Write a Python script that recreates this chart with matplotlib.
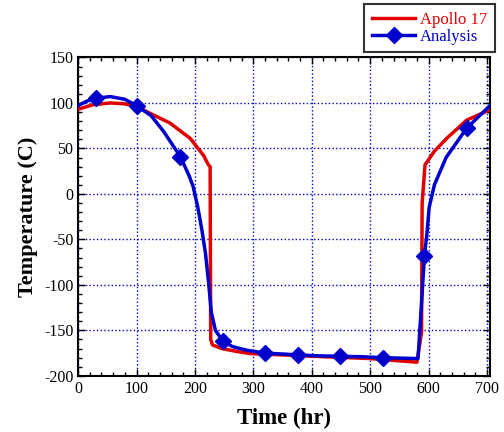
import matplotlib.pyplot as plt
from matplotlib.ticker import MultipleLocator

# Apollo 17 measured surface temperature
apollo_t = [0, 25, 55, 80, 100, 125, 157, 192, 215, 223, 226, 227, 230, 246, 270, 294,
            350, 420, 500, 580, 588, 589, 594, 610, 631, 665, 700, 705]
apollo_T = [93, 98, 100, 99, 96, 88, 78, 61, 42, 32, 30, -160, -166, -170, -173, -175.5,
            -177, -179, -181, -185, -152, -10, 32, 47, 61, 81, 91, 93]

# Analysis curve
analysis_t = [0, 15, 30, 55, 80, 100, 125, 146, 175, 190, 197, 205, 212, 218, 223, 228, 235,
              248, 265, 290, 320, 350, 377, 410, 448, 485, 522, 550, 582, 593, 597, 601,
              610, 630, 665, 705]
analysis_T = [97, 102, 105, 107, 104, 97, 86, 69, 41, 20, 8, -15, -40, -65, -95, -130, -150,
              -162, -168, -172, -175, -176, -177, -178, -178.5, -179, -180, -180.5, -181,
              -68, -45, -15, 10, 40, 72, 97]
marker_idx = [2, 5, 8, 17, 20, 22, 24, 26, 29, 34]

plt.rcParams['font.family'] = ['Liberation Serif', 'DejaVu Serif']
plt.rcParams['axes.unicode_minus'] = False

fig = plt.figure(figsize=(5.04, 4.32), dpi=100)
ax = fig.add_axes([0.155, 0.130, 0.817, 0.737])

l1, = ax.plot(apollo_t, apollo_T, color='#e00000', lw=2.5, label='Apollo 17', zorder=3)
l2, = ax.plot(analysis_t, analysis_T, color='#0000cc', lw=2.5, marker='D', ms=8,
              markevery=marker_idx, label='Analysis', zorder=4)

ax.set_xlim(0, 705)
ax.set_ylim(-200, 150)
ax.xaxis.set_major_locator(MultipleLocator(100))
ax.xaxis.set_minor_locator(MultipleLocator(20))
ax.yaxis.set_major_locator(MultipleLocator(50))
ax.yaxis.set_minor_locator(MultipleLocator(10))
ax.tick_params(which='both', direction='in', top=True, right=True, labelsize=11.5)
ax.tick_params(which='major', length=5, width=1)
ax.tick_params(which='minor', length=3, width=1)
for s in ax.spines.values():
    s.set_linewidth(1.5)
ax.grid(True, which='major', color='#0000cc', ls=':', lw=1)

ax.set_xlabel('Time (hr)', fontsize=16.5, fontweight='bold', labelpad=8)
ax.set_ylabel('Temperature (C)', fontsize=16, fontweight='bold', labelpad=4)

leg = fig.legend(handles=[l1, l2], loc='upper right', bbox_to_anchor=(0.982, 0.99),
                 borderaxespad=0, fontsize=12, frameon=True, fancybox=False,
                 edgecolor='black', handlelength=2.6, borderpad=0.45, labelspacing=0.05,
                 handletextpad=0.3)
leg.get_frame().set_linewidth(1.5)
leg.texts[0].set_color('#e00000')
leg.texts[1].set_color('#0000cc')

fig.savefig('out.png', dpi=100)
